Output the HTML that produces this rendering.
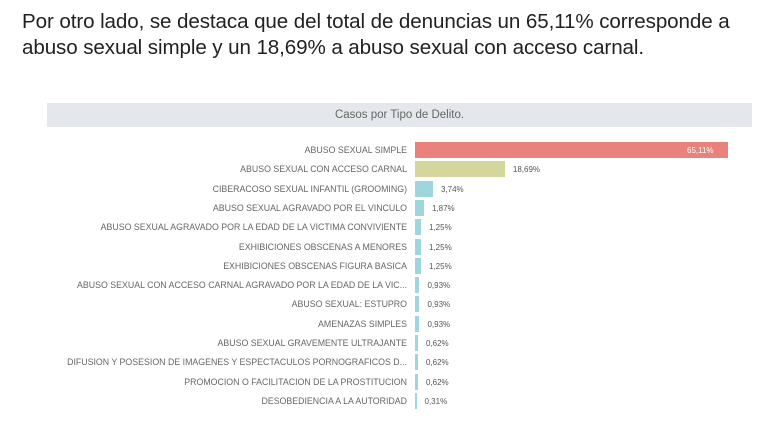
<!DOCTYPE html>
<html><head><meta charset="utf-8"><style>
body{margin:0;width:770px;height:423px;background:#fff;font-family:"Liberation Sans",sans-serif;position:relative;overflow:hidden}
.t{position:absolute;left:22px;top:9px;font-size:20.6px;line-height:26px;color:#222;letter-spacing:-0.1px}
.hdr{position:absolute;left:47px;top:103px;width:705px;height:24px;background:#e4e7eb;text-align:center;font-size:11.5px;line-height:24px;color:#666}
.lab{position:absolute;right:363px;font-size:8.8px;color:#666;white-space:nowrap;text-align:right}
.bar{position:absolute;left:415px;height:16px}
.v{position:absolute;font-size:8px;color:#555}
</style></head><body>
<div class="t">Por otro lado, se destaca que del total de denuncias un 65,11% corresponde a<br>abuso sexual simple y un 18,69% a abuso sexual con acceso carnal.</div>
<div class="hdr">Casos por Tipo de Delito.</div>
<div id="c"></div>
<script>
var d=[["ABUSO SEXUAL SIMPLE",65.11,"#e8827a"],["ABUSO SEXUAL CON ACCESO CARNAL",18.69,"#d4d69c"],["CIBERACOSO SEXUAL INFANTIL (GROOMING)",3.74],["ABUSO SEXUAL AGRAVADO POR EL VINCULO",1.87],["ABUSO SEXUAL AGRAVADO POR LA EDAD DE LA VICTIMA CONVIVIENTE",1.25],["EXHIBICIONES OBSCENAS A MENORES",1.25],["EXHIBICIONES OBSCENAS FIGURA BASICA",1.25],["ABUSO SEXUAL CON ACCESO CARNAL AGRAVADO POR LA EDAD DE LA VIC...",0.93],["ABUSO SEXUAL: ESTUPRO",0.93],["AMENAZAS SIMPLES",0.93],["ABUSO SEXUAL GRAVEMENTE ULTRAJANTE",0.62],["DIFUSION Y POSESION DE IMAGENES Y ESPECTACULOS PORNOGRAFICOS D...",0.62],["PROMOCION O FACILITACION DE LA PROSTITUCION",0.62],["DESOBEDIENCIA A LA AUTORIDAD",0.31]];
var h="";d.forEach(function(r,i){var y=142+i*19.3;var w=Math.max(1.5,r[1]*4.81);var c=r[2]||"#9fd6de";
h+='<div class="lab" style="top:'+(y+3)+'px">'+r[0]+'</div><div class="bar" style="top:'+y+'px;width:'+w+'px;background:'+c+'"></div>';
var s=r[1].toFixed(2).replace(".",",")+"%";
if(i==0)h+='<div class="v" style="top:'+(y+4)+'px;left:687px;color:#fff">'+s+'</div>';
else h+='<div class="v" style="top:'+(y+4)+'px;left:'+(415+w+8)+'px">'+s+'</div>';});
document.getElementById("c").innerHTML=h;
</script>
</body></html>
